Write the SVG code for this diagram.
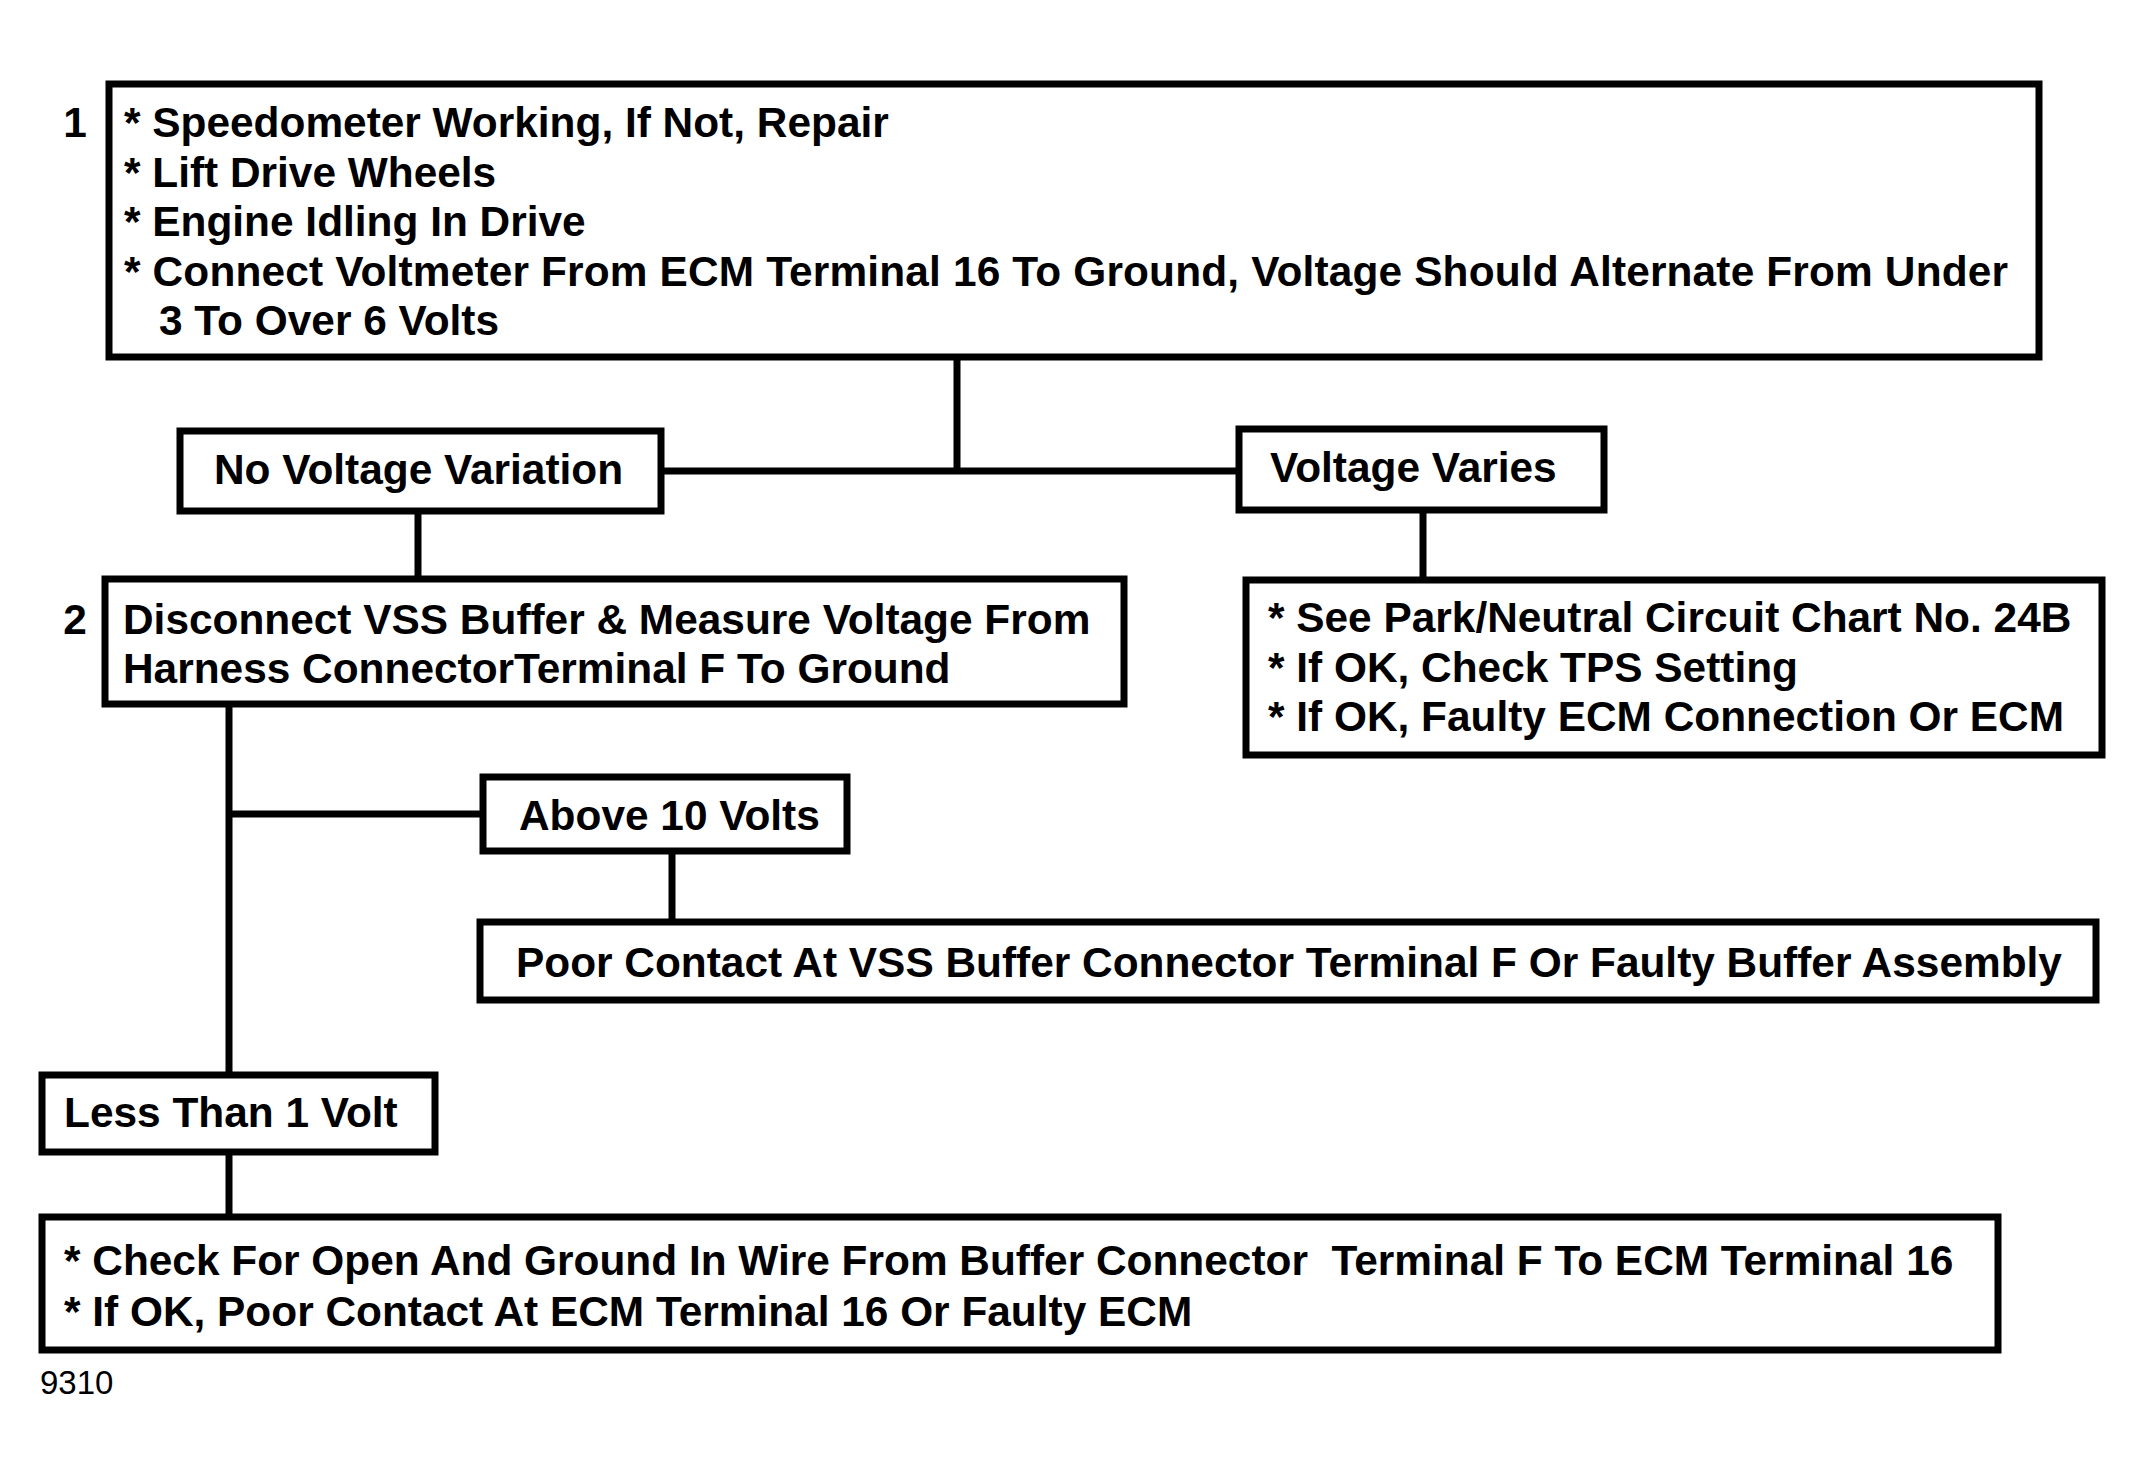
<svg xmlns="http://www.w3.org/2000/svg" width="2142" height="1468" viewBox="0 0 2142 1468">
<style>
.box{fill:#fff;stroke:#000;stroke-width:7}
.t{font-family:"Liberation Sans",Arial,sans-serif;font-weight:bold;font-size:42.4px;fill:#000;white-space:pre}
.n{font-family:"Liberation Sans",Arial,sans-serif;font-weight:bold;font-size:42.4px;fill:#000;text-anchor:middle}
.c{stroke:#000;stroke-width:7;fill:none}
.id{font-family:"Liberation Sans",Arial,sans-serif;font-size:33px;fill:#000}
</style>
<rect width="2142" height="1468" fill="#fff"/>
<g id="connectors">
<path class="c" d="M957,357 V471 M661,471 H1239"/>
<path class="c" d="M418,511 V579"/>
<path class="c" d="M1423,510 V580"/>
<path class="c" d="M229,703 V1074 M229,814 H482"/>
<path class="c" d="M672,851 V922"/>
<path class="c" d="M229,1152 V1217"/>
</g>
<g id="step1">
<rect class="box" x="109" y="84" width="1930" height="273"/>
<text class="n" x="75" y="137">1</text>
<text class="t" x="124" y="137">* Speedometer Working, If Not, Repair</text>
<text class="t" x="124" y="187">* Lift Drive Wheels</text>
<text class="t" x="124" y="236">* Engine Idling In Drive</text>
<text class="t" x="124" y="286" textLength="1884" lengthAdjust="spacing">* Connect Voltmeter From ECM Terminal 16 To Ground, Voltage Should Alternate From Under</text>
<text class="t" x="159" y="335">3 To Over 6 Volts</text>
</g>
<g id="no-voltage-variation">
<rect class="box" x="180" y="431" width="481" height="80"/>
<text class="t" x="214" y="484">No Voltage Variation</text>
</g>
<g id="voltage-varies">
<rect class="box" x="1239" y="429" width="365" height="81"/>
<text class="t" x="1270" y="482">Voltage Varies</text>
</g>
<g id="voltage-varies-result">
<rect class="box" x="1246" y="580" width="856" height="175"/>
<text class="t" x="1268" y="632">* See Park/Neutral Circuit Chart No. 24B</text>
<text class="t" x="1268" y="682">* If OK, Check TPS Setting</text>
<text class="t" x="1268" y="731">* If OK, Faulty ECM Connection Or ECM</text>
</g>
<g id="step2">
<rect class="box" x="105" y="579" width="1019" height="125"/>
<text class="n" x="75" y="634">2</text>
<text class="t" x="123" y="634">Disconnect VSS Buffer &amp; Measure Voltage From</text>
<text class="t" x="123" y="683">Harness ConnectorTerminal F To Ground</text>
</g>
<g id="above-10-volts">
<rect class="box" x="483" y="777" width="364" height="74"/>
<text class="t" x="519" y="830">Above 10 Volts</text>
</g>
<g id="above-10-volts-result">
<rect class="box" x="480" y="922" width="1616" height="78"/>
<text class="t" x="516" y="977">Poor Contact At VSS Buffer Connector Terminal F Or Faulty Buffer Assembly</text>
</g>
<g id="less-than-1-volt">
<rect class="box" x="42" y="1075" width="393" height="77"/>
<text class="t" x="64" y="1127">Less Than 1 Volt</text>
</g>
<g id="less-than-1-volt-result">
<rect class="box" x="42" y="1217" width="1956" height="133"/>
<text class="t" x="64" y="1275">* Check For Open And Ground In Wire From Buffer Connector  Terminal F To ECM Terminal 16</text>
<text class="t" x="64" y="1326">* If OK, Poor Contact At ECM Terminal 16 Or Faulty ECM</text>
</g>
<text class="id" x="40" y="1394">9310</text>
</svg>
